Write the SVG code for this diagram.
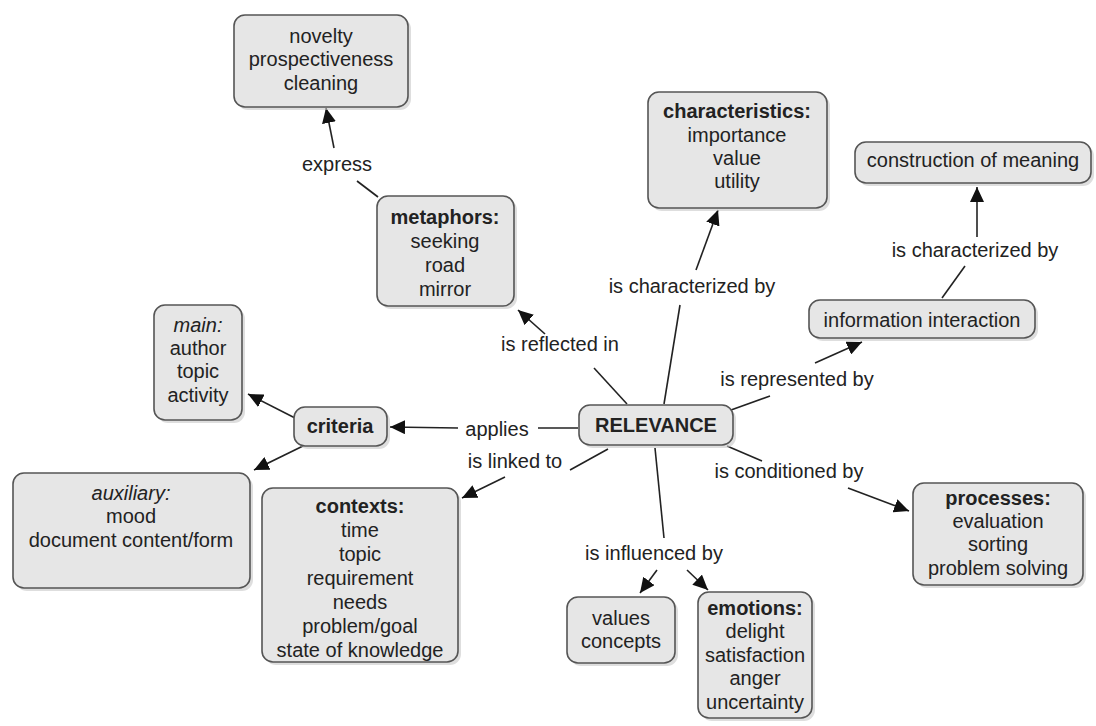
<svg xmlns="http://www.w3.org/2000/svg" width="1096" height="726" viewBox="0 0 1096 726">
<defs>
<style>
.box{fill:#e6e6e6;stroke:#555;stroke-width:1.6}
.sh{fill:#c8c8c8;opacity:0.6}
text{font-family:"Liberation Sans",Arial,sans-serif;font-size:20px;fill:#222;text-anchor:middle}
.b{font-weight:bold}
.i{font-style:italic}
.c line{stroke:#222;stroke-width:1.6}
.c .a{marker-end:url(#ah)}
</style>
<marker id="ah" markerUnits="userSpaceOnUse" markerWidth="16" markerHeight="14" refX="15" refY="7" orient="auto">
<path d="M0,0 L15,7 L0,14 z" fill="#111"/>
</marker>
</defs>
<rect width="1096" height="726" fill="#fff"/>

<g class="c" id="connectors">
<line x1="378" y1="197" x2="357" y2="181"/>
<line class="a" x1="334" y1="148" x2="326" y2="108"/>
<line x1="627" y1="404" x2="594" y2="368"/>
<line class="a" x1="545" y1="334" x2="518" y2="310"/>
<line x1="664" y1="404" x2="680" y2="305"/>
<line class="a" x1="696" y1="270" x2="718" y2="210"/>
<line x1="731" y1="410" x2="770" y2="396"/>
<line class="a" x1="815" y1="363" x2="862" y2="342"/>
<line x1="942" y1="298" x2="965" y2="266"/>
<line class="a" x1="977" y1="237" x2="977" y2="187"/>
<line x1="578" y1="428" x2="538" y2="428"/>
<line class="a" x1="458" y1="428" x2="390" y2="427"/>
<line class="a" x1="295" y1="418" x2="248" y2="394"/>
<line class="a" x1="303" y1="446" x2="254" y2="470"/>
<line x1="608" y1="449" x2="570" y2="470"/>
<line class="a" x1="505" y1="477" x2="462" y2="498"/>
<line x1="727" y1="446" x2="762" y2="461"/>
<line class="a" x1="848" y1="488" x2="909" y2="511"/>
<line x1="655" y1="448" x2="664" y2="538"/>
<line class="a" x1="657" y1="570" x2="640" y2="593"/>
<line class="a" x1="687" y1="570" x2="708" y2="590"/>
</g>

<g id="labels">
<text x="337" y="171">express</text>
<text x="560" y="351">is reflected in</text>
<text x="692" y="293">is characterized by</text>
<text x="975" y="257">is characterized by</text>
<text x="797" y="386">is represented by</text>
<text x="497" y="436">applies</text>
<text x="515" y="468">is linked to</text>
<text x="789" y="478">is conditioned by</text>
<text x="654" y="560">is influenced by</text>
</g>

<g id="n-novelty">
<rect class="sh" x="237" y="18" width="174" height="92" rx="11"/>
<rect class="box" x="234" y="15" width="174" height="92" rx="11"/>
<text x="321" y="43">novelty</text>
<text x="321" y="66">prospectiveness</text>
<text x="321" y="90">cleaning</text>
</g>

<g id="n-characteristics">
<rect class="sh" x="651" y="95" width="179" height="116" rx="11"/>
<rect class="box" x="648" y="92" width="179" height="116" rx="11"/>
<text class="b" x="737" y="118">characteristics:</text>
<text x="737" y="142">importance</text>
<text x="737" y="165">value</text>
<text x="737" y="188">utility</text>
</g>

<g id="n-construction">
<rect class="sh" x="858" y="145" width="236" height="41" rx="11"/>
<rect class="box" x="855" y="142" width="236" height="41" rx="11"/>
<text x="973" y="167">construction of meaning</text>
</g>

<g id="n-metaphors">
<rect class="sh" x="380" y="199" width="137" height="110" rx="11"/>
<rect class="box" x="377" y="196" width="137" height="110" rx="11"/>
<text class="b" x="445" y="224">metaphors:</text>
<text x="445" y="248">seeking</text>
<text x="445" y="272">road</text>
<text x="445" y="296">mirror</text>
</g>

<g id="n-info">
<rect class="sh" x="812" y="303" width="226" height="38" rx="11"/>
<rect class="box" x="809" y="300" width="226" height="38" rx="11"/>
<text x="922" y="327">information interaction</text>
</g>

<g id="n-main">
<rect class="sh" x="157" y="308" width="88" height="115" rx="11"/>
<rect class="box" x="154" y="305" width="88" height="115" rx="11"/>
<text class="i" x="198" y="332">main:</text>
<text x="198" y="355">author</text>
<text x="198" y="378">topic</text>
<text x="198" y="402">activity</text>
</g>

<g id="n-criteria">
<rect class="sh" x="297" y="410" width="93" height="39" rx="11"/>
<rect class="box" x="294" y="407" width="93" height="39" rx="11"/>
<text class="b" x="340" y="433">criteria</text>
</g>

<g id="n-relevance">
<rect class="sh" x="582" y="408" width="154" height="40" rx="11"/>
<rect class="box" x="579" y="405" width="154" height="40" rx="11"/>
<text class="b" x="656" y="432">RELEVANCE</text>
</g>

<g id="n-auxiliary">
<rect class="sh" x="16" y="476" width="237" height="115" rx="11"/>
<rect class="box" x="13" y="473" width="237" height="115" rx="11"/>
<text class="i" x="131" y="500">auxiliary:</text>
<text x="131" y="523">mood</text>
<text x="131" y="547">document content/form</text>
</g>

<g id="n-contexts">
<rect class="sh" x="265" y="491" width="196" height="174" rx="11"/>
<rect class="box" x="262" y="488" width="196" height="174" rx="11"/>
<text class="b" x="360" y="513">contexts:</text>
<text x="360" y="537">time</text>
<text x="360" y="561">topic</text>
<text x="360" y="585">requirement</text>
<text x="360" y="609">needs</text>
<text x="360" y="633">problem/goal</text>
<text x="360" y="657">state of knowledge</text>
</g>

<g id="n-processes">
<rect class="sh" x="916" y="486" width="170" height="102" rx="11"/>
<rect class="box" x="913" y="483" width="170" height="102" rx="11"/>
<text class="b" x="998" y="505">processes:</text>
<text x="998" y="528">evaluation</text>
<text x="998" y="551">sorting</text>
<text x="998" y="575">problem solving</text>
</g>

<g id="n-values">
<rect class="sh" x="570" y="600" width="108" height="66" rx="11"/>
<rect class="box" x="567" y="597" width="108" height="66" rx="11"/>
<text x="621" y="625">values</text>
<text x="621" y="648">concepts</text>
</g>

<g id="n-emotions">
<rect class="sh" x="701" y="595" width="114" height="126" rx="11"/>
<rect class="box" x="698" y="592" width="114" height="126" rx="11"/>
<text class="b" x="755" y="615">emotions:</text>
<text x="755" y="638">delight</text>
<text x="755" y="662">satisfaction</text>
<text x="755" y="685">anger</text>
<text x="755" y="709">uncertainty</text>
</g>
</svg>
